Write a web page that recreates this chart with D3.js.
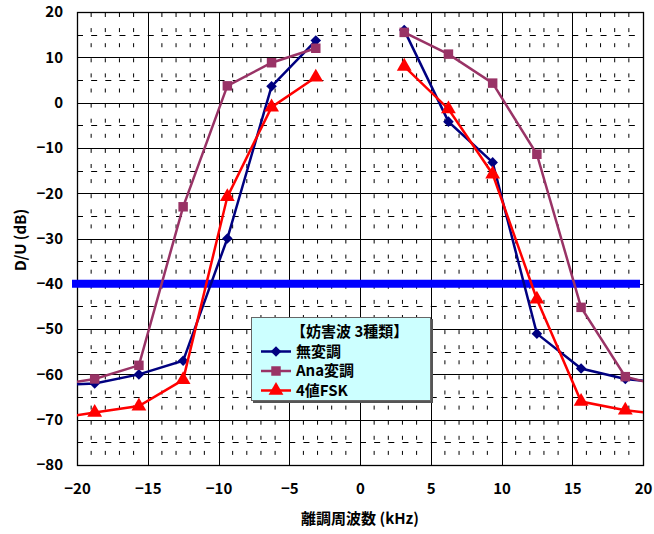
<!DOCTYPE html>
<html>
<head>
<meta charset="utf-8">
<script src="https://cdn.jsdelivr.net/npm/d3@7"></script>
<style>
  body { margin: 0; background: #fff; }
  text { font-family: "Noto Sans CJK JP", "DejaVu Sans", sans-serif; font-weight: bold; }
</style>
</head>
<body>
<div id="chart"></div>
<script>
// frequency offsets (kHz); the outermost points sit just outside the axis
var freqLeft = [-21.875, -18.75, -15.625, -12.5, -9.375, -6.25, -3.125];
var freqRight = [3.125, 6.25, 9.375, 12.5, 15.625, 18.75, 21.875];

// D/U values (dB)
var muLeft = [-62.5, -62, -60, -57, -30, 3.6, 13.7];
var muRight = [16, -4.2, -13.2, -51, -58.7, -61, -62];
var anaLeft = [-62.5, -61, -58, -23, 3.7, 8.8, 12];
var anaRight = [15.5, 10.7, 4.3, -11.4, -45.2, -60.5, -63];
var fskLeft = [-70, -68.4, -67, -61.2, -20.8, -1, 5.6];
var fskRight = [8, -1.4, -15.8, -43.4, -66, -67.9, -69];

var seriesNames = ["無変調", "Ana変調", "4値FSK"];
var legendTitle = "【妨害波 3種類】";
var limitLevel = -40;

var xTicks = [-20, -15, -10, -5, 0, 5, 10, 15, 20];
var yTicks = [20, 10, 0, -10, -20, -30, -40, -50, -60, -70, -80];

var margin = { top: 12, right: 11, bottom: 69, left: 77 },
  width = 654 - margin.left - margin.right,
  height = 534 - margin.top - margin.bottom;

var svg = d3
  .select("#chart")
  .append("svg")
  .attr("width", 654)
  .attr("height", 534);

var g = svg
  .append("g")
  .attr("transform", "translate(" + margin.left + "," + margin.top + ")");

var x = d3.scaleLinear().domain([-20, 20]).range([0, width]);
var y = d3.scaleLinear().domain([-80, 20]).range([height, 0]);

g.append("clipPath")
  .attr("id", "plot-clip")
  .append("rect")
  .attr("width", width)
  .attr("height", height);

// minor grid: dashed verticals every 1 kHz, dashed horizontals at the 5 dB marks
var minorX = d3.range(-19, 20).filter(function (d) { return d % 5 !== 0; });
var minorY = d3.range(-75, 20, 10);

g.selectAll(".minor-x")
  .data(minorX)
  .enter()
  .append("line")
  .attr("x1", function (d) { return x(d); })
  .attr("x2", function (d) { return x(d); })
  .attr("y1", 0)
  .attr("y2", height)
  .attr("stroke", "#000")
  .attr("stroke-width", 1)
  .attr("stroke-dasharray", "4,11.1")
  .attr("stroke-dashoffset", -1);

g.selectAll(".minor-y")
  .data(minorY)
  .enter()
  .append("line")
  .attr("x1", 0)
  .attr("x2", width)
  .attr("y1", function (d) { return Math.round(y(d)) + 0.5; })
  .attr("y2", function (d) { return Math.round(y(d)) + 0.5; })
  .attr("stroke", "#000")
  .attr("stroke-width", 1)
  .attr("stroke-dasharray", "6,8.15");

// major grid
g.selectAll(".major-x")
  .data(xTicks)
  .enter()
  .append("line")
  .attr("x1", function (d) { return Math.round(x(d)) + 0.5; })
  .attr("x2", function (d) { return Math.round(x(d)) + 0.5; })
  .attr("y1", 0)
  .attr("y2", height)
  .attr("stroke", "#000")
  .attr("stroke-width", 1);

g.selectAll(".major-y")
  .data(yTicks)
  .enter()
  .append("line")
  .attr("x1", 0)
  .attr("x2", width)
  .attr("y1", function (d) { return Math.round(y(d)) + 0.5; })
  .attr("y2", function (d) { return Math.round(y(d)) + 0.5; })
  .attr("stroke", "#000")
  .attr("stroke-width", 1);

// axes (labels only, the frame is drawn by the grid)
var fmt = d3.format("d");
var xAxis = g
  .append("g")
  .attr("transform", "translate(0," + height + ")")
  .call(d3.axisBottom(x).tickValues(xTicks).tickFormat(fmt).tickSize(0).tickPadding(18));
var yAxis = g
  .append("g")
  .call(d3.axisLeft(y).tickValues(yTicks).tickFormat(fmt).tickSize(0).tickPadding(14));
[xAxis, yAxis].forEach(function (a) {
  a.select(".domain").remove();
  a.selectAll("text").attr("font-size", "15px").attr("fill", "#000");
});

// frame
g.append("rect")
  .attr("x", 0.5)
  .attr("y", 0.5)
  .attr("width", width)
  .attr("height", height)
  .attr("fill", "none")
  .attr("stroke", "#000")
  .attr("stroke-width", 1.3);

// limit line
g.append("line")
  .attr("x1", x(-20) - 5)
  .attr("x2", x(20) - 3)
  .attr("y1", y(limitLevel))
  .attr("y2", y(limitLevel))
  .attr("stroke", "#0000ff")
  .attr("stroke-width", 8);

var series = [
  { name: seriesNames[0], left: muLeft, right: muRight, color: "#000080", symbol: d3.symbolSquare, size: 56, rot: 45 },
  { name: seriesNames[1], left: anaLeft, right: anaRight, color: "#993366", symbol: d3.symbolSquare, size: 90, rot: 0 },
  { name: seriesNames[2], left: fskLeft, right: fskRight, color: "#ff0000", symbol: d3.symbolTriangle, size: 95, rot: 0 }
];

var line = d3
  .line()
  .x(function (d) { return x(d[0]); })
  .y(function (d) { return y(d[1]); });

var plot = g.append("g").attr("clip-path", "url(#plot-clip)");

series.forEach(function (s) {
  var segs = [d3.zip(freqLeft, s.left), d3.zip(freqRight, s.right)];
  segs.forEach(function (pts) {
    plot
      .append("path")
      .datum(pts)
      .attr("d", line)
      .attr("fill", "none")
      .attr("stroke", s.color)
      .attr("stroke-width", 2.5);
    plot
      .selectAll(null)
      .data(pts)
      .enter()
      .append("path")
      .attr("d", d3.symbol().type(s.symbol).size(s.size))
      .attr("transform", function (d) {
        return "translate(" + x(d[0]) + "," + y(d[1]) + ") rotate(" + s.rot + ")";
      })
      .attr("fill", s.color);
  });
});

// legend
var lg = svg.append("g").attr("transform", "translate(251,317)");
lg.append("rect")
  .attr("x", 2)
  .attr("y", 2)
  .attr("width", 180)
  .attr("height", 84)
  .attr("fill", "#555");
lg.append("rect")
  .attr("x", 0.5)
  .attr("y", 0.5)
  .attr("width", 179)
  .attr("height", 83)
  .attr("fill", "#ccffff")
  .attr("stroke", "#666")
  .attr("stroke-width", 1);
lg.append("text")
  .attr("x", 40)
  .attr("y", 15)
  .attr("dy", "0.35em")
  .attr("font-size", "15px")
  .text(legendTitle);
series.forEach(function (s, i) {
  var ly = 34.5 + i * 19.5;
  lg.append("line")
    .attr("x1", 10)
    .attr("x2", 40)
    .attr("y1", ly)
    .attr("y2", ly)
    .attr("stroke", s.color)
    .attr("stroke-width", 2.5);
  lg.append("path")
    .attr("d", d3.symbol().type(s.symbol).size(s.size))
    .attr("transform", "translate(25," + ly + ") rotate(" + s.rot + ")")
    .attr("fill", s.color);
  lg.append("text")
    .attr("x", 45)
    .attr("y", ly)
    .attr("dy", "0.35em")
    .attr("font-size", "15px")
    .text(s.name);
});

// axis titles
svg.append("text")
  .attr("x", margin.left + x(0))
  .attr("y", 519)
  .attr("dy", "0.35em")
  .attr("text-anchor", "middle")
  .attr("font-size", "15px")
  .text("離調周波数 (kHz)");

svg.append("text")
  .attr("transform", "translate(21,240) rotate(-90)")
  .attr("dy", "0.35em")
  .attr("text-anchor", "middle")
  .attr("font-size", "15px")
  .text("D/U (dB)");
</script>
</body>
</html>
